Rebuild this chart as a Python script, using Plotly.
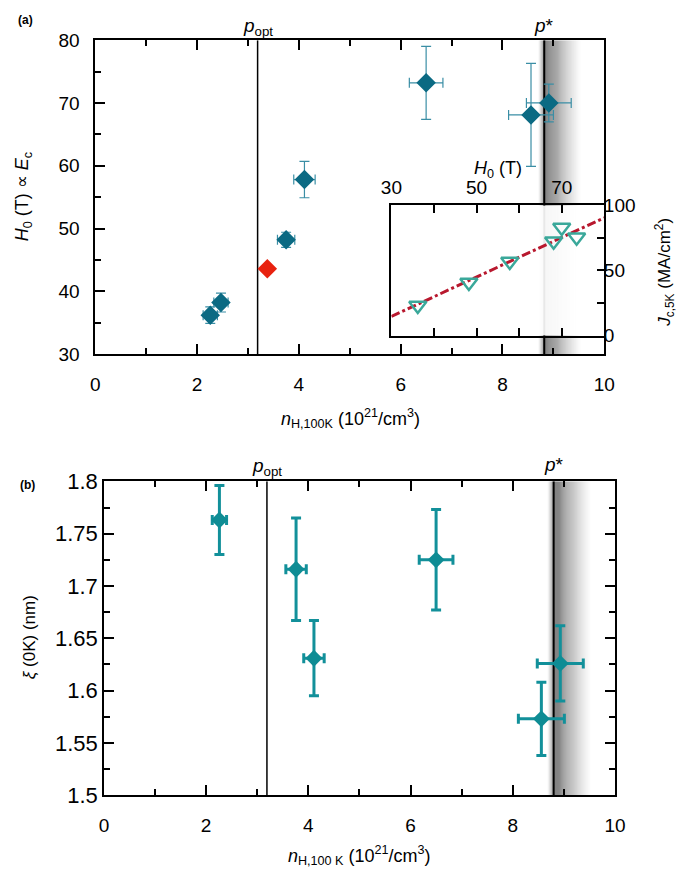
import plotly.graph_objects as go

# ---------------- data ----------------
# panel (a): H0 vs hole density
n_a = [2.26, 2.47, 3.75, 4.11, 6.50, 8.56, 8.91]
n_a_err = [0.14, 0.14, 0.17, 0.21, 0.33, 0.44, 0.44]
H0_a = [36.2, 38.2, 48.2, 57.8, 73.2, 68.1, 70.0]
H0_a_err = [1.3, 1.5, 1.2, 2.9, 5.8, 8.2, 3.0]
n_red = [3.38]
H0_red = [43.6]

# inset: Jc(5K) vs H0
H0_inset = [36.2, 48.2, 57.8, 68.1, 70.0, 73.5]
Jc_inset = [23.1, 40.8, 56.9, 72.4, 83.1, 75.6]
fit_H0 = [30, 80]
fit_Jc = [14.7, 90.5]

# panel (b): coherence length
n_b = [2.26, 3.76, 4.11, 6.50, 8.56, 8.93]
n_b_err = [0.14, 0.20, 0.20, 0.33, 0.45, 0.45]
xi_b = [1.763, 1.716, 1.631, 1.725, 1.573, 1.626]
xi_b_err = [0.033, 0.049, 0.036, 0.048, 0.035, 0.036]

p_opt = 3.19
p_star_a = 8.82
p_star_b = 8.80

# ---------------- layout helpers ----------------
W, H = 685, 885
def px(x):
    return x / W
def py(y):
    return 1 - y / H

# pixel frame of each plotting box
A_L, A_R, A_T, A_B = 87, 613, 29, 352
B_L, B_R, B_T, B_B = 96, 624, 483, 806
I_L, I_R, I_T, I_B = 393, 613, 199, 333
A_YR = [30, 80]

FONT = "Liberation Sans, Arial, sans-serif"
TICKFONT = dict(family=FONT, size=19, color="black")
TICKFONT_B = dict(family=FONT, size=22, color="black")

fig = go.Figure()

# panel (a) traces
fig.add_trace(go.Scatter(
    x=n_a, y=H0_a, mode="markers", xaxis="x", yaxis="y",
    marker=dict(symbol="diamond", size=15, color="#0b6a83"),
    error_y=dict(type="data", array=H0_a_err, color="#3a8ea5", thickness=1.2, width=5),
    error_x=dict(type="data", array=n_a_err, color="#3a8ea5", thickness=1.2, width=5),
    showlegend=False))
fig.add_trace(go.Scatter(
    x=n_red, y=H0_red, mode="markers", xaxis="x", yaxis="y",
    marker=dict(symbol="diamond", size=15, color="#e8220f"), showlegend=False))

# inset traces
fig.add_trace(go.Scatter(
    x=fit_H0, y=fit_Jc, mode="lines", xaxis="x3", yaxis="y3",
    line=dict(color="#b8182e", width=3, dash="dashdot"), showlegend=False))
fig.add_trace(go.Scatter(
    x=H0_inset, y=Jc_inset, mode="markers", xaxis="x3", yaxis="y3",
    marker=dict(symbol="triangle-down-open", size=15, color="#3aa89a",
                line=dict(width=2.5, color="#3aa89a")),
    showlegend=False))

# panel (b) traces
fig.add_trace(go.Scatter(
    x=n_b, y=xi_b, mode="markers", xaxis="x2", yaxis="y2",
    marker=dict(symbol="diamond", size=13, color="#0e8c94"),
    error_y=dict(type="data", array=xi_b_err, color="#12909a", thickness=3, width=5),
    error_x=dict(type="data", array=n_b_err, color="#12909a", thickness=3, width=5),
    showlegend=False))

def ax(**kw):
    d = dict(showline=True, linecolor="black", linewidth=1.5, mirror="ticks",
             ticks="inside", tickcolor="black", tickwidth=1.5, ticklen=10,
             showgrid=False, zeroline=False, tickfont=TICKFONT)
    d.update(kw)
    return d

def minor(**kw):
    d = dict(ticks="inside", ticklen=6, tickcolor="black", tickwidth=1.5)
    d.update(kw)
    return d

fig.update_layout(
    width=W, height=H, autosize=False,
    margin=dict(l=0, r=0, t=0, b=0),
    paper_bgcolor="white", plot_bgcolor="rgba(0,0,0,0)",
    font=dict(family=FONT, color="black"),
    xaxis=ax(domain=[px(A_L), px(A_R)], anchor="y", range=[0, 10], dtick=2,
             minor=minor(dtick=1), ticklabelstandoff=12),
    yaxis=ax(domain=[py(A_B), py(A_T)], anchor="x", range=A_YR, dtick=10, mirror=True,
             minor=minor(dtick=5), ticklabelstandoff=10),
    # right-hand ticks of panel (a), only where the inset does not cover them
    yaxis4=dict(overlaying="y", side="right", range=A_YR, anchor="x",
                tickvals=[60, 70, 80], ticks="inside", ticklen=10, tickwidth=1.5,
                tickcolor="black", showticklabels=False, showgrid=False, zeroline=False,
                showline=False, minor=minor(tickvals=[55, 65, 75])),
    xaxis2=ax(domain=[px(B_L), px(B_R)], anchor="y2", range=[0, 10], dtick=2,
              minor=minor(dtick=1), ticklabelstandoff=12),
    yaxis2=ax(domain=[py(B_B), py(B_T)], anchor="x2", range=[1.5, 1.8],
              tickvals=[1.5, 1.55, 1.6, 1.65, 1.7, 1.75, 1.8],
              ticktext=["1.5", "1.55", "1.6", "1.65", "1.7", "1.75", "1.8"],
              tickfont=TICKFONT_B,
              minor=minor(tickvals=[1.525, 1.575, 1.625, 1.675, 1.725, 1.775]),
              ticklabelstandoff=0),
    xaxis3=ax(domain=[px(I_L), px(I_R)], anchor="y3", side="top", range=[30, 80],
              tickvals=[30, 40, 50, 60, 70, 80], ticktext=["30", "", "50", "", "70", ""],
              ticklen=8, ticklabelstandoff=2),
    yaxis3=ax(domain=[py(I_B), py(I_T)], anchor="x3", side="right", range=[0, 100],
              tickvals=[0, 25, 50, 75, 100], ticktext=["0", "", "50", "", "100"],
              mirror=True, ticklen=8, ticklabelstandoff=-6),
)

# H0 values at the inset's lower and upper edges (so the band skips the inset)
def a_pix_to_H0(p):
    return A_YR[0] + (A_B - p) / (A_B - A_T) * (A_YR[1] - A_YR[0])
H_ib = a_pix_to_H0(I_B)
H_it = a_pix_to_H0(I_T)

shapes = []

def add_band(xref, yref, xc, segments):
    for (y0, y1, f) in segments:
        nl = 6
        x_left = xc - 0.12
        for i in range(nl):
            a = x_left + (xc - x_left) * i / nl
            b = x_left + (xc - x_left) * (i + 1) / nl
            op = f * 0.45 * ((i + 0.5) / nl) ** 1.2
            shapes.append(dict(type="rect", xref=xref, yref=yref, x0=a, x1=b, y0=y0, y1=y1,
                               fillcolor=f"rgba(0,0,0,{op:.3f})", line=dict(width=0), layer="below"))
        nr = 36
        x_right = xc + 0.75
        for i in range(nr):
            a = xc + (x_right - xc) * i / nr
            b = xc + (x_right - xc) * (i + 1) / nr
            t = (i + 0.5) / nr
            op = f * 0.58 * (1 - t) ** 1.3
            shapes.append(dict(type="rect", xref=xref, yref=yref, x0=a, x1=b, y0=y0, y1=y1,
                               fillcolor=f"rgba(0,0,0,{op:.3f})", line=dict(width=0), layer="below"))
        lc = "black" if f >= 1 else "rgba(0,0,0,0.06)"
        shapes.append(dict(type="line", xref=xref, yref=yref, x0=xc, x1=xc, y0=y0, y1=y1,
                           line=dict(color=lc, width=2), layer="below"))

add_band("x", "y", p_star_a, [(A_YR[0], H_ib, 1), (H_ib, H_it, 0.07), (H_it, A_YR[1], 1)])
add_band("x2", "y2", p_star_b, [(1.5, 1.8, 1)])
shapes.append(dict(type="line", xref="x", yref="y", x0=p_opt, x1=p_opt, y0=A_YR[0], y1=A_YR[1],
                   line=dict(color="black", width=1.5), layer="below"))
shapes.append(dict(type="line", xref="x2", yref="y2", x0=p_opt, x1=p_opt, y0=1.5, y1=1.8,
                   line=dict(color="black", width=1.5), layer="below"))
fig.update_layout(shapes=shapes)

ann = []
def A(text, x, y, size=18, xref="paper", angle=0, xanchor="center"):
    ann.append(dict(text=text, x=x, y=y, xref=xref, yref="paper", showarrow=False,
                    xanchor=xanchor, yanchor="middle", textangle=angle,
                    font=dict(family=FONT, size=size, color="black")))

A("<b>(a)</b>", px(15), py(8), size=12)
A("<b>(b)</b>", px(17), py(487), size=12)
A("<i>p</i><sub>opt</sub>", p_opt, py(15), size=19, xref="x")
A("<i>p</i>*", p_star_a, py(14), size=19, xref="x")
A("<i>p</i><sub>opt</sub>", p_opt, py(468), size=19, xref="x2")
A("<i>p</i>*", p_star_b, py(466), size=19, xref="x2")
A("<i>n</i><sub>H,100K</sub> (10<sup>21</sup>/cm<sup>3</sup>)", px(351), py(418), size=18)
A("<i>n</i><sub>H,100 K</sub> (10<sup>21</sup>/cm<sup>3</sup>)", px(360), py(868), size=18)
A("<i>H</i><sub>0</sub> (T) ∝ <i>E</i><sub>c</sub>", px(13), py(190), size=18, angle=-90)
A("<i>ξ</i> (0K) (nm)", px(19), py(643), size=17, angle=-90)
A("<i>H</i><sub>0</sub> (T)", px(503), py(162), size=18)
A("<i>J</i><sub>c,5K</sub> (MA/cm<sup>2</sup>)", px(675), py(268), size=17, angle=-90)
fig.update_layout(annotations=ann)

fig.write_html("out.html", config={"displayModeBar": False},
               post_script="document.body.style.margin='0';document.body.style.overflow='hidden';")
